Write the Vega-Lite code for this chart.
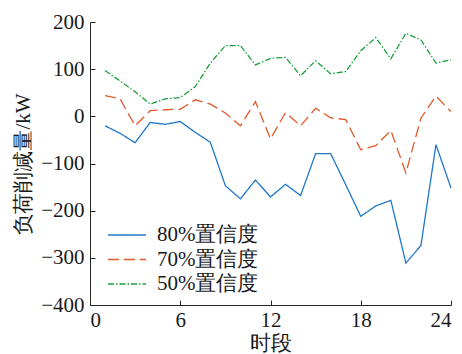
{
  "$schema": "https://vega.github.io/schema/vega-lite/v6.json",
  "width": 361,
  "height": 283,
  "autosize": "none",
  "padding": {"left": 90, "top": 22, "right": 11, "bottom": 49},
  "background": "white",
  "config": {
    "view": {"stroke": null},
    "axis": {
      "grid": false,
      "domainColor": "#262626",
      "tickColor": "#262626",
      "labelColor": "#1a1a1a",
      "titleColor": "#1a1a1a",
      "labelFontSize": 21,
      "titleFontSize": 21,
      "titleFontWeight": "normal",
      "tickSize": -5,
      "domainWidth": 1,
      "tickWidth": 1
    },
    "legend": {
      "labelFontSize": 21,
      "labelColor": "#1a1a1a"
    }
  },
  "data": {
    "values": [
      {"t": 1, "s": "80%置信度", "v": -20}, {"t": 2, "s": "80%置信度", "v": -36}, {"t": 3, "s": "80%置信度", "v": -56},
      {"t": 4, "s": "80%置信度", "v": -13}, {"t": 5, "s": "80%置信度", "v": -17}, {"t": 6, "s": "80%置信度", "v": -11},
      {"t": 7, "s": "80%置信度", "v": -34}, {"t": 8, "s": "80%置信度", "v": -55}, {"t": 9, "s": "80%置信度", "v": -147},
      {"t": 10, "s": "80%置信度", "v": -175}, {"t": 11, "s": "80%置信度", "v": -135}, {"t": 12, "s": "80%置信度", "v": -171},
      {"t": 13, "s": "80%置信度", "v": -144}, {"t": 14, "s": "80%置信度", "v": -168}, {"t": 15, "s": "80%置信度", "v": -79},
      {"t": 16, "s": "80%置信度", "v": -79}, {"t": 17, "s": "80%置信度", "v": -145}, {"t": 18, "s": "80%置信度", "v": -212},
      {"t": 19, "s": "80%置信度", "v": -190}, {"t": 20, "s": "80%置信度", "v": -178}, {"t": 21, "s": "80%置信度", "v": -311},
      {"t": 22, "s": "80%置信度", "v": -274}, {"t": 23, "s": "80%置信度", "v": -60}, {"t": 24, "s": "80%置信度", "v": -152},
      {"t": 1, "s": "70%置信度", "v": 44}, {"t": 2, "s": "70%置信度", "v": 37}, {"t": 3, "s": "70%置信度", "v": -20},
      {"t": 4, "s": "70%置信度", "v": 12}, {"t": 5, "s": "70%置信度", "v": 14}, {"t": 6, "s": "70%置信度", "v": 15},
      {"t": 7, "s": "70%置信度", "v": 35}, {"t": 8, "s": "70%置信度", "v": 26}, {"t": 9, "s": "70%置信度", "v": 7},
      {"t": 10, "s": "70%置信度", "v": -20}, {"t": 11, "s": "70%置信度", "v": 31}, {"t": 12, "s": "70%置信度", "v": -48},
      {"t": 13, "s": "70%置信度", "v": 8}, {"t": 14, "s": "70%置信度", "v": -20}, {"t": 15, "s": "70%置信度", "v": 17},
      {"t": 16, "s": "70%置信度", "v": -3}, {"t": 17, "s": "70%置信度", "v": -7}, {"t": 18, "s": "70%置信度", "v": -71},
      {"t": 19, "s": "70%置信度", "v": -62}, {"t": 20, "s": "70%置信度", "v": -30}, {"t": 21, "s": "70%置信度", "v": -120},
      {"t": 22, "s": "70%置信度", "v": -4}, {"t": 23, "s": "70%置信度", "v": 43}, {"t": 24, "s": "70%置信度", "v": 10},
      {"t": 1, "s": "50%置信度", "v": 97}, {"t": 2, "s": "50%置信度", "v": 75}, {"t": 3, "s": "50%置信度", "v": 52},
      {"t": 4, "s": "50%置信度", "v": 26}, {"t": 5, "s": "50%置信度", "v": 37}, {"t": 6, "s": "50%置信度", "v": 40},
      {"t": 7, "s": "50%置信度", "v": 63}, {"t": 8, "s": "50%置信度", "v": 113}, {"t": 9, "s": "50%置信度", "v": 150},
      {"t": 10, "s": "50%置信度", "v": 150}, {"t": 11, "s": "50%置信度", "v": 109}, {"t": 12, "s": "50%置信度", "v": 123},
      {"t": 13, "s": "50%置信度", "v": 125}, {"t": 14, "s": "50%置信度", "v": 86}, {"t": 15, "s": "50%置信度", "v": 118},
      {"t": 16, "s": "50%置信度", "v": 90}, {"t": 17, "s": "50%置信度", "v": 95}, {"t": 18, "s": "50%置信度", "v": 139},
      {"t": 19, "s": "50%置信度", "v": 167}, {"t": 20, "s": "50%置信度", "v": 122}, {"t": 21, "s": "50%置信度", "v": 176},
      {"t": 22, "s": "50%置信度", "v": 162}, {"t": 23, "s": "50%置信度", "v": 113}, {"t": 24, "s": "50%置信度", "v": 120}
    ]
  },
  "mark": {"type": "line", "strokeWidth": 1.3},
  "encoding": {
    "x": {
      "field": "t", "type": "quantitative",
      "scale": {"domain": [0, 24], "nice": false, "zero": false},
      "axis": {"values": [0, 6, 12, 18, 24], "title": "时段", "labelPadding": 9, "titlePadding": 2, "labelFont": "Liberation Serif", "titleFont": "Liberation Serif"}
    },
    "y": {
      "field": "v", "type": "quantitative",
      "scale": {"domain": [-400, 200], "nice": false},
      "axis": {"values": [-400, -300, -200, -100, 0, 100, 200], "title": "负荷削减量/kW", "labelPadding": 11, "titlePadding": 7, "labelExpr": "replace(datum.label, '-', '−')", "labelFont": "Liberation Serif", "titleFont": "Liberation Serif"}
    },
    "color": {
      "field": "s", "type": "nominal",
      "scale": {"domain": ["80%置信度", "70%置信度", "50%置信度"], "range": ["#1f78c8", "#e05a2b", "#17a03c"]},
      "legend": {"title": null, "orient": "none", "legendX": 17, "legendY": 203, "symbolType": "stroke", "symbolSize": 1440, "symbolStrokeWidth": 1.3, "labelOffset": 10, "clipHeight": 20, "rowPadding": 3.5, "labelFont": "Liberation Serif"}
    },
    "strokeDash": {
      "field": "s", "type": "nominal",
      "scale": {"domain": ["80%置信度", "70%置信度", "50%置信度"], "range": [[1, 0], [11, 5], [6, 2, 1.5, 2]]},
      "legend": null
    }
  }
}
